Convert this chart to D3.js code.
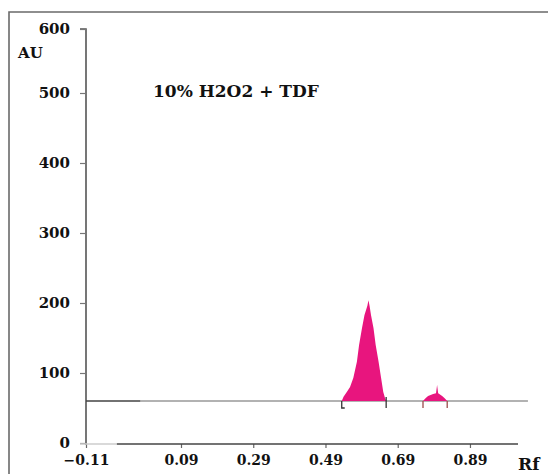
<!DOCTYPE html>
<html>
<head>
<meta charset="utf-8">
<script src="https://cdn.jsdelivr.net/npm/d3@7/dist/d3.min.js"></script>
<style>
  html, body { margin: 0; padding: 0; background: #fff; }
  svg { display: block; }
  text { font-family: "DejaVu Serif", "Liberation Serif", serif; font-weight: bold; fill: #111; }
</style>
</head>
<body>
<svg id="chart" width="548" height="474"></svg>
<script>
// Densitogram: 10% H2O2 + TDF
const title = "10% H2O2 + TDF";
const xTicks = [-0.11, 0.09, 0.29, 0.49, 0.69, 0.89];
const yTicks = [0, 100, 200, 300, 400, 500, 600];
const baselineAU = 60;
const baselineRf = [-0.11, 1.05];

// Main peak (Rf, AU)
const peak1Rf = [0.535, 0.540, 0.549, 0.558, 0.567, 0.577, 0.583, 0.591, 0.598, 0.606, 0.609, 0.612, 0.616, 0.623, 0.629, 0.637, 0.644, 0.650, 0.655, 0.658];
const peak1AU = [60, 66, 73, 80, 93, 116, 140, 164, 183, 196, 204, 196, 183, 164, 140, 116, 93, 73, 64, 60];

// Minor peak (Rf, AU)
const peak2Rf = [0.760, 0.767, 0.774, 0.788, 0.796, 0.799, 0.802, 0.813, 0.820, 0.827];
const peak2AU = [60, 64, 67, 70, 71, 83, 71, 67, 64, 60];

// Integration marks at peak limits
const peak1Limits = [0.535, 0.658];
const peak2Limits = [0.760, 0.827];

const svg = d3.select("#chart");

const x = d3.scaleLinear().domain([-0.11, 0.09, 1.023]).range([86, 181, 518]);
const xBase = d3.scaleLinear().domain([-0.11, 0.09, 1.1]).range([86, 181, 546]);
const y = d3.scaleLinear().domain([0, 500, 600]).range([443, 93, 29]);

// frame (left and top edges)
svg.append("path")
  .attr("d", "M9,474V12H548")
  .attr("fill", "none")
  .attr("stroke", "#6a6a6a")
  .attr("stroke-width", 1.6);

// y axis
const yAxis = svg.append("g")
  .attr("transform", `translate(${x(-0.11)},0)`)
  .call(d3.axisLeft(y).tickValues(yTicks).tickSize(6).tickPadding(10).tickFormat(d3.format("d")));
yAxis.select(".domain").attr("stroke", "#555").attr("stroke-width", 1.6)
  .attr("d", `M-6,${y(600)}H0V${y(0) + 2}`);
yAxis.selectAll(".tick line").attr("stroke", "#777").attr("stroke-width", 1.2);
yAxis.selectAll(".tick text").attr("font-size", 15).attr("fill", "#111")
  .style("font-family", "DejaVu Serif").style("font-weight", "bold");

// x axis
const xAxis = svg.append("g")
  .attr("transform", `translate(0,${y(0) + 1})`)
  .call(d3.axisBottom(x).tickValues(xTicks).tickSize(4).tickPadding(7).tickFormat(d3.format(".2f")));
xAxis.select(".domain").remove();
xAxis.append("line")
  .attr("x1", x(-0.11) - 6).attr("x2", x(-0.045))
  .attr("stroke", "#ccc").attr("stroke-width", 1.4);
xAxis.append("line")
  .attr("x1", x(-0.045)).attr("x2", x(1.023))
  .attr("stroke", "#444").attr("stroke-width", 1.6);
xAxis.selectAll(".tick line").attr("stroke", "#666").attr("stroke-width", 1.2);
xAxis.selectAll(".tick text").attr("font-size", 14).attr("fill", "#111")
  .style("font-family", "DejaVu Serif").style("font-weight", "bold");

// baseline
svg.append("line")
  .attr("x1", xBase(baselineRf[0])).attr("x2", xBase(baselineRf[1]))
  .attr("y1", y(baselineAU)).attr("y2", y(baselineAU))
  .attr("stroke", "#666").attr("stroke-width", 1.2);
svg.append("line")
  .attr("x1", xBase(baselineRf[0])).attr("x2", xBase(0.004))
  .attr("y1", y(baselineAU)).attr("y2", y(baselineAU))
  .attr("stroke", "#333").attr("stroke-width", 1.2);

// peaks
const area = d3.area()
  .x(d => x(d[0]))
  .y0(y(baselineAU))
  .y1(d => y(d[1]));

svg.append("path")
  .datum(d3.zip(peak1Rf, peak1AU))
  .attr("d", area)
  .attr("fill", "#e8157e");
svg.append("path")
  .datum(d3.zip(peak2Rf, peak2AU))
  .attr("d", area)
  .attr("fill", "#e8157e");

// integration limit marks
const markTop = y(baselineAU);
svg.append("path")
  .attr("d", `M${x(peak1Limits[0])},${markTop}V${markTop + 7}H${x(peak1Limits[0]) + 3}`)
  .attr("fill", "none").attr("stroke", "#333").attr("stroke-width", 1.3);
svg.append("line")
  .attr("x1", x(peak1Limits[1])).attr("x2", x(peak1Limits[1]))
  .attr("y1", markTop - 4).attr("y2", markTop + 7)
  .attr("stroke", "#333").attr("stroke-width", 1.3);
svg.selectAll(".lim2")
  .data(peak2Limits)
  .enter().append("line")
  .attr("x1", d => x(d)).attr("x2", d => x(d))
  .attr("y1", markTop).attr("y2", markTop + 7)
  .attr("stroke", "#9b4a4a").attr("stroke-width", 1.3);

// labels
svg.append("text").attr("x", 18).attr("y", 58).attr("font-size", 15).text("AU");
svg.append("text").attr("x", 153).attr("y", 97).attr("font-size", 17).text(title);
svg.append("text").attr("x", 518).attr("y", 470).attr("font-size", 17).text("Rf");
</script>
</body>
</html>
